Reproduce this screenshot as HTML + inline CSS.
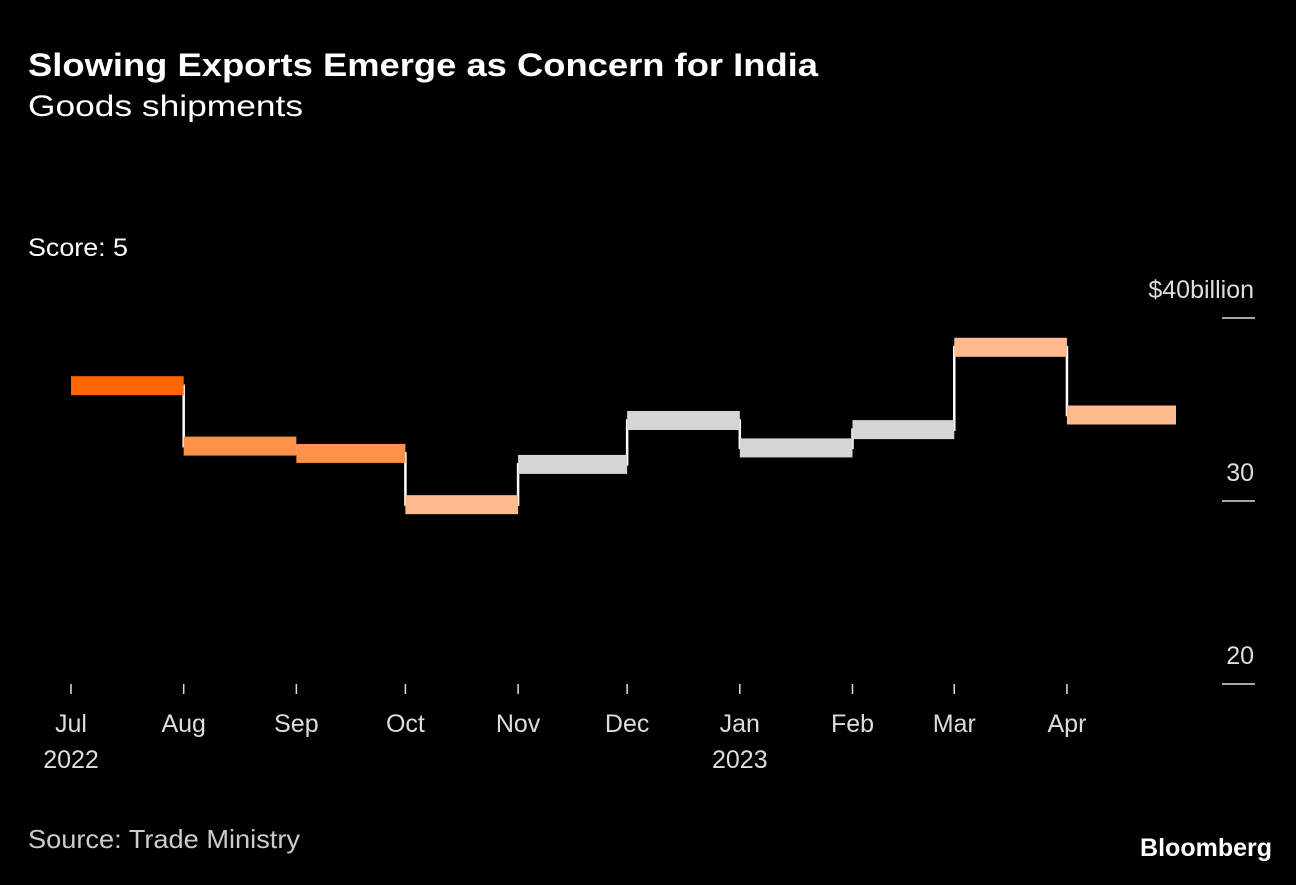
<!DOCTYPE html>
<html><head><meta charset="utf-8"><style>
body{margin:0;background:#000;width:1296px;height:880px;overflow:hidden;font-family:"Liberation Sans",sans-serif;}
</style></head><body>
<svg width="1296" height="880" xmlns="http://www.w3.org/2000/svg">
<rect width="1296" height="880" fill="#000"/>
<text x="28" y="76" fill="#fff" font-size="32" font-weight="bold" textLength="790" lengthAdjust="spacingAndGlyphs">Slowing Exports Emerge as Concern for India</text>
<text x="28" y="116" fill="#fff" font-size="30" textLength="275" lengthAdjust="spacingAndGlyphs">Goods shipments</text>
<text x="28" y="256" fill="#fff" font-size="25" textLength="100" lengthAdjust="spacingAndGlyphs">Score: 5</text>
<text x="28" y="848" fill="#ccc" font-size="26" textLength="272" lengthAdjust="spacingAndGlyphs">Source: Trade Ministry</text>
<text x="1272" y="856" fill="#fff" font-size="25" font-weight="bold" text-anchor="end">Bloomberg</text>
<g id="plot"></g>
</svg>
<script>
const months=["Jul","Aug","Sep","Oct","Nov","Dec","Jan","Feb","Mar","Apr"];
const years=["2022","","","","","","2023","","",""];
const values=[36.3,33.0,32.6,29.8,32.0,34.4,32.9,33.9,38.4,34.7];
const colors=["#ff6600","#ff9248","#ff9248","#ffbb8f","#d6d6d6","#d6d6d6","#d6d6d6","#d6d6d6","#ffbb8f","#ffbb8f"];
const yTicks=[40,30,20];
const yTickLabels=["$40billion","30","20"];
const ns="http://www.w3.org/2000/svg";
const g=document.getElementById('plot');
const t0=Date.UTC(2022,6,1),t1=Date.UTC(2023,4,1);
function xs(i){const d=Date.UTC(2022,6+i,1);return 71+(d-t0)/(t1-t0)*1105;}
function ys(v){return 501-(v-30)*18.3;}
function mk(tag,attrs){const e=document.createElementNS(ns,tag);for(const k in attrs)e.setAttribute(k,attrs[k]);g.appendChild(e);return e;}
yTicks.forEach((v,i)=>{
 const l=mk('line',{x1:1222,x2:1255,y1:ys(v),y2:ys(v),stroke:'#ddd','stroke-width':1.5});
 
 
 const t=mk('text',{x:1254,y:ys(v)-20,fill:'#ddd','font-size':25,'text-anchor':'end'});
 t.textContent=yTickLabels[i];
 
 
});
months.forEach((m,i)=>{
 const x=xs(i);
 const tk=mk('line',{x1:x,x2:x,y1:684,y2:694,stroke:'#ddd','stroke-width':1.5});
 
 
 const t=mk('text',{x:x,y:732,fill:'#ddd','font-size':25,'text-anchor':'middle'});
 t.textContent=m;
 
 
 if(years[i]){const y=mk('text',{x:x,y:768,fill:'#ddd','font-size':25,'text-anchor':'middle'});y.textContent=years[i];
 
 }
});
let d='';
values.forEach((v,i)=>{d+=(i===0?'M':'L')+xs(i)+' '+ys(v)+' L'+xs(i+1)+' '+ys(v)+' ';});
const p=mk('path',{d:d,fill:'none',stroke:'#fff','stroke-width':2.5});


values.forEach((v,i)=>{
 const r=mk('rect',{x:xs(i),y:ys(v)-9.5,width:xs(i+1)-xs(i),height:19,fill:colors[i]});
 
 
});
</script>
</body></html>
